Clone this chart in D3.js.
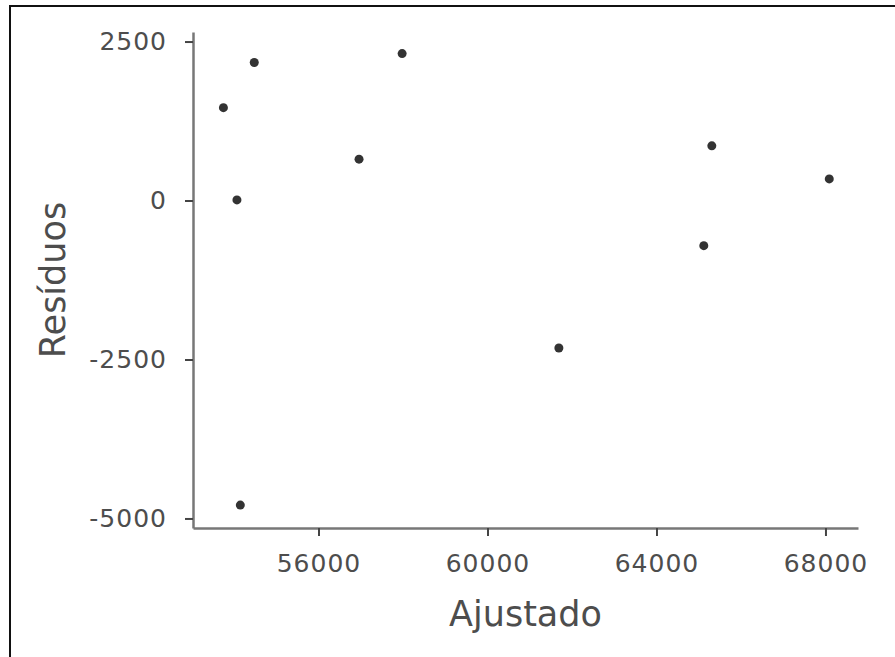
<!DOCTYPE html>
<html>
<head>
<meta charset="utf-8">
<script src="https://cdn.jsdelivr.net/npm/d3@7"></script>
<style>
  body { margin: 0; background: #fff; }
  svg { display: block; }
</style>
</head>
<body>
<div id="chart"></div>
<script>
// fitted values and residuals
var ajustado = [53750, 54480, 54070, 54150, 57980, 56960, 61690, 65120, 65310, 68090];
var residuos = [1460, 2170, 10, -4790, 2310, 650, -2320, -710, 860, 340];
var xTicks = [56000, 60000, 64000, 68000];
var yTicks = [-5000, -2500, 0, 2500];

var W = 895, H = 657;
var margin = {top: 32, right: 37, bottom: 129, left: 193};
var width = W - margin.left - margin.right;
var height = H - margin.top - margin.bottom;

var root = d3.select("#chart").append("svg")
    .attr("width", W)
    .attr("height", H);

// frame (only top and left edges visible)
root.append("path")
    .attr("d", "M10,657V6H895")
    .attr("fill", "none")
    .attr("stroke", "#111")
    .attr("stroke-width", 2);

var svg = root.append("g")
    .attr("transform", "translate(" + margin.left + "," + margin.top + ")");

var x = d3.scaleLinear().domain([53030, 68770]).range([0, width]);
var y = d3.scaleLinear().domain([-5150, 2650]).range([height, 0]);

// plain hyphen for negatives, like the original
var fmt = function(d) { return String(d); };

var xAxis = svg.append("g")
    .attr("transform", "translate(0," + height + ")")
    .call(d3.axisBottom(x).tickValues(xTicks).tickFormat(fmt)
          .tickSize(8).tickSizeOuter(0).tickPadding(18));

var yAxis = svg.append("g")
    .call(d3.axisLeft(y).tickValues(yTicks).tickFormat(fmt)
          .tickSize(8).tickSizeOuter(0).tickPadding(18));

[xAxis, yAxis].forEach(function(a) {
  a.select(".domain").attr("stroke", "#777").attr("stroke-width", 2.5);
  a.selectAll(".tick line").attr("stroke", "#444").attr("stroke-width", 2);
  a.selectAll(".tick text")
      .attr("fill", "#4d4d4d")
      .attr("font-family", "DejaVu Sans")
      .attr("font-size", "25px")
      .attr("letter-spacing", "1px");
});

svg.selectAll("circle")
    .data(ajustado)
    .enter()
    .append("circle")
      .attr("cx", function(d) { return x(d); })
      .attr("cy", function(d, i) { return y(residuos[i]); })
      .attr("r", 4.5)
      .attr("fill", "#333");

svg.append("text")
    .attr("text-anchor", "middle")
    .attr("font-family", "DejaVu Sans")
    .attr("font-size", "35px")
    .attr("fill", "#4d4d4d")
    .attr("x", width / 2)
    .attr("y", 626 - margin.top)
    .text("Ajustado");

svg.append("text")
    .attr("text-anchor", "middle")
    .attr("font-family", "DejaVu Sans")
    .attr("font-size", "35px")
    .attr("fill", "#4d4d4d")
    .attr("transform", "translate(" + (65 - margin.left) + "," + (height / 2) + ") rotate(-90)")
    .text("Resíduos");
</script>
</body>
</html>
